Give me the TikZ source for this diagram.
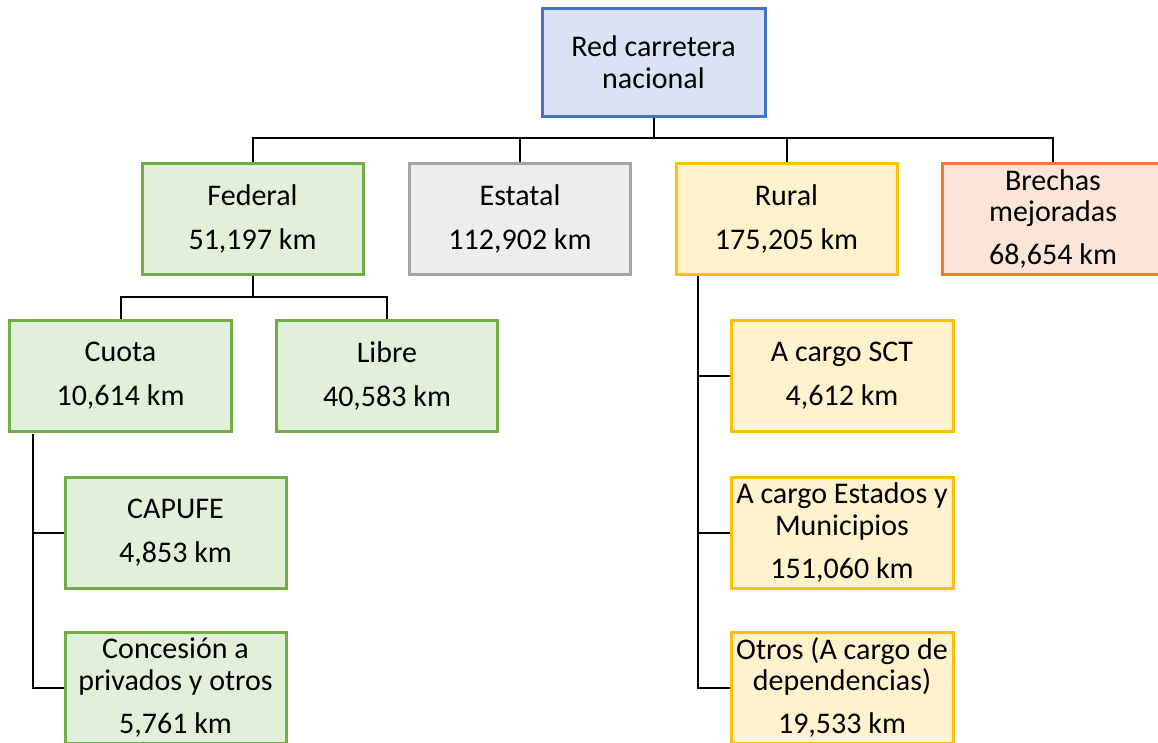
\documentclass[tikz,border=0pt]{standalone}
\usepackage{fontspec}
\setmainfont{Carlito}
\definecolor{bluB}{HTML}{4472C4}\definecolor{bluF}{HTML}{DAE3F3}
\definecolor{grnB}{HTML}{70AD47}\definecolor{grnF}{HTML}{E2F0D9}
\definecolor{gryB}{HTML}{A5A5A5}\definecolor{gryF}{HTML}{EDEDED}
\definecolor{ylwB}{HTML}{FFC000}\definecolor{ylwF}{HTML}{FFF2CC}
\definecolor{orgB}{HTML}{ED7D31}\definecolor{orgF}{HTML}{FBE5D6}
\begin{document}
\begin{tikzpicture}[x=1pt,y=-1pt,
  box/.style={draw, line width=3pt, minimum width=221pt, minimum height=111pt, inner sep=0pt, align=center,
    font=\fontsize{30}{31.5}\selectfont},
  bluebox/.style={box, draw=bluB, fill=bluF},
  greenbox/.style={box, draw=grnB, fill=grnF},
  graybox/.style={box, draw=gryB, fill=gryF},
  yellowbox/.style={box, draw=ylwB, fill=ylwF},
  orangebox/.style={box, draw=orgB, fill=orgF},
  conn/.style={draw=black, line width=2pt}]
\useasboundingbox (0,0) rectangle (1158,742);
\clip (0,0) rectangle (1158,742);
% nodes
\node[bluebox, minimum width=223pt, minimum height=108pt] (r) at (653.5,62) {Red carretera\\nacional};
\node[greenbox] (fed) at (252.5,218.5) {Federal\\[12.5pt]51,197 km};
\node[graybox] (est) at (520,218.5) {Estatal\\[12.5pt]112,902 km};
\node[yellowbox] (rur) at (786.5,218.5) {Rural\\[12.5pt]175,205 km};
\node[orangebox] (br) at (1053,219) {Brechas\\mejoradas\\[11.5pt]68,654 km};
\node[greenbox, minimum width=222pt] (cu) at (120.5,376) {Cuota\\[12.5pt]10,614 km};
\node[greenbox] (li) at (387,376) {Libre\\[12.5pt]40,583 km};
\node[greenbox] (cap) at (175.5,532.5) {CAPUFE\\[12.5pt]4,853 km};
\node[greenbox] (con) at (175.5,687.5) {Concesi\'on a\\privados y otros\\[11.5pt]5,761 km};
\node[yellowbox, minimum width=222pt] (sct) at (842,376) {A cargo SCT\\[12.5pt]4,612 km};
\node[yellowbox, minimum width=222pt] (edo) at (842,532.5) {A cargo Estados y\\Municipios\\[11.5pt]151,060 km};
\node[yellowbox, minimum width=222pt] (otr) at (842,687.5) {Otros (A cargo de\\dependencias)\\[11.5pt]19,533 km};
% connectors
\coordinate (bus) at (653.5,138);
\coordinate (fbus) at (252.5,297);
\coordinate (cuv) at (32.5,434);
\coordinate (rv) at (698,276);
\draw[conn] (r.south) -- (bus);
\draw[conn] (fed.north) |- (bus) -| (br.north);
\draw[conn] (est.north) -- (est.north |- bus);
\draw[conn] (rur.north) -- (rur.north |- bus);
\draw[conn] (fed.south) -- (fbus);
\draw[conn] (cu.north) |- (fbus) -| (li.north);
\draw[conn] (cuv) |- (cap.west);
\draw[conn] (cuv) |- (con.west);
\draw[conn] (rv) |- (sct.west);
\draw[conn] (rv) |- (edo.west);
\draw[conn] (rv) |- (otr.west);
\end{tikzpicture}
\end{document}
